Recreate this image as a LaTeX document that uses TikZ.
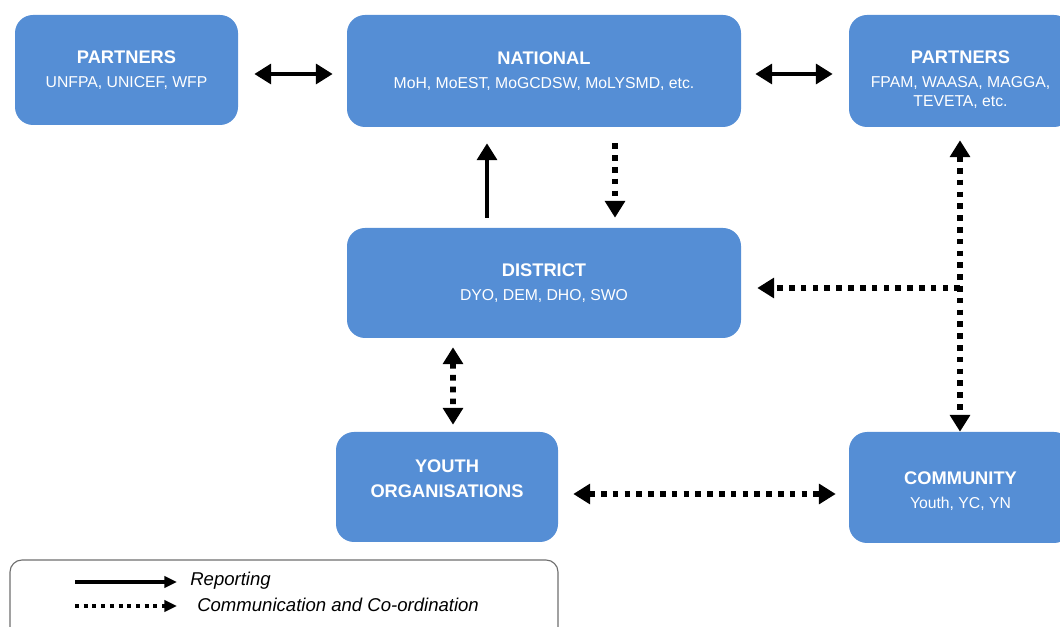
\documentclass[tikz,border=0pt]{standalone}
\usepackage{fontspec}
\setmainfont{Liberation Sans}
\usepackage{tikz}
\usetikzlibrary{arrows.meta,positioning,calc}
\usepackage{xcolor}
\definecolor{boxblue}{RGB}{85,142,213}
\definecolor{legendgray}{RGB}{110,110,110}

\newcommand{\boxtitle}[1]{{\fontsize{13}{16}\selectfont\bfseries #1}}
\newcommand{\boxsub}[1]{{\fontsize{11.2}{13.5}\selectfont #1}}

\begin{document}
\begin{tikzpicture}[
    >={Triangle[length=12pt, width=14pt]},
    box/.style={draw=none, fill=boxblue, rounded corners=0.45cm, text=white, align=center, inner sep=0pt,
        font=\fontsize{11.2}{13.5}\selectfont},
    boxtext/.style={text=white, align=center, inner sep=0pt, font=\fontsize{11.2}{13.5}\selectfont},
    solidarrow/.style={line width=3.4pt},
    dotarrow/.style={line width=4pt, dash pattern=on 4pt off 4.4pt},
    legsolid/.style={line width=2.6pt, -{Triangle[length=9pt, width=8pt]}},
    legdot/.style={line width=2.8pt, dash pattern=on 2.8pt off 3.4pt, -{Triangle[length=9pt, width=8pt]}}
]
\clip (0,0) rectangle (26.5,15.675);

% Top row
\node[box, minimum width=5.575cm, minimum height=2.75cm] (partnersL) at (3.1625, 13.925)
    {\boxtitle{PARTNERS}\\[3.5pt] \boxsub{UNFPA, UNICEF, WFP}};
\node[box, minimum width=9.85cm, minimum height=2.8cm] (national) at (13.6, 13.9)
    {\boxtitle{NATIONAL}\\[3.5pt] \boxsub{MoH, MoEST, MoGCDSW, MoLYSMD, etc.}};
\node[box, minimum width=5.575cm, minimum height=2.8cm] (partnersR) at (24.0125, 13.9) {};
\node[boxtext] (partnersRtext) at ([yshift=-0.225cm]partnersR.center)
    {\boxtitle{PARTNERS}\\[3.5pt] \boxsub{FPAM, WAASA, MAGGA,}\\ \boxsub{TEVETA, etc.}};

% Middle and bottom rows
\node[box, minimum width=9.85cm, minimum height=2.75cm] (district) at (13.6, 8.6)
    {\boxtitle{DISTRICT}\\[3.5pt] \boxsub{DYO, DEM, DHO, SWO}};
\node[box, minimum width=5.55cm, minimum height=2.75cm] (youth) at (11.175, 3.5) {};
\node[boxtext] (youthtext) at ([yshift=0.2cm]youth.center)
    {\boxtitle{YOUTH}\\[4pt] \boxtitle{ORGANISATIONS}};
\node[box, minimum width=5.575cm, minimum height=2.775cm] (community) at (24.0125, 3.4875) {};
\node[boxtext] (communitytext) at ([yshift=-0.1cm]community.center)
    {\boxtitle{COMMUNITY}\\[3.5pt] \boxsub{Youth, YC, YN}};

% Links
\draw[solidarrow, <->, shorten <=0.4cm, shorten >=0.35cm] ([yshift=-0.1cm]partnersL.east) -- ([yshift=-0.075cm]national.west);
\draw[solidarrow, <->, shorten <=0.35cm, shorten >=0.4cm] ([yshift=-0.075cm]national.east) -- ([yshift=-0.075cm]partnersR.west);
\draw[solidarrow, ->, shorten <=0.25cm, shorten >=0.4cm] ([xshift=-1.425cm]district.north) -- ([xshift=-1.425cm]national.south);
\draw[dotarrow, ->, shorten <=0.4cm, shorten >=0.25cm] ([xshift=1.775cm]national.south) -- ([xshift=1.775cm]district.north);

\coordinate (junction) at (24.0, 8.475);
\coordinate (youthR) at ([yshift=-0.175cm]youth.east);
\draw[dotarrow, <->, shorten <=0.325cm] ([xshift=-0.0125cm]partnersR.south) -- ([xshift=-0.0125cm]community.north);
\draw[dotarrow, ->, shorten >=0.4cm] (junction) -- (district.east |- junction);
\draw[dotarrow, <->, shorten <=0.225cm, shorten >=0.175cm] ([xshift=-2.275cm]district.south) -- ([xshift=0.15cm]youth.north);
\draw[dotarrow, <->, shorten <=0.375cm, shorten >=0.325cm] (youthR) -- (community.west |- youthR);

% Legend
\node[draw=legendgray, line width=0.8pt, rounded corners=0.3cm, minimum width=13.7cm, minimum height=3cm, inner sep=0pt] (legend) at (7.1, 0.175) {};
\coordinate (repA) at (1.875, 1.125);
\coordinate (repB) at (4.425, 1.125);
\coordinate (comA) at (1.875, 0.525);
\coordinate (comB) at (4.425, 0.525);
\draw[legsolid] (repA) -- (repB);
\draw[legdot] (comA) -- (comB);
\node[anchor=west, font=\fontsize{13.2}{15}\selectfont\itshape, inner sep=0pt] (repText) at (4.75, 1.15) {Reporting};
\node[anchor=west, font=\fontsize{13.2}{15}\selectfont\itshape, inner sep=0pt] (comText) at (4.925, 0.55) {Communication and Co-ordination};

\end{tikzpicture}
\end{document}
